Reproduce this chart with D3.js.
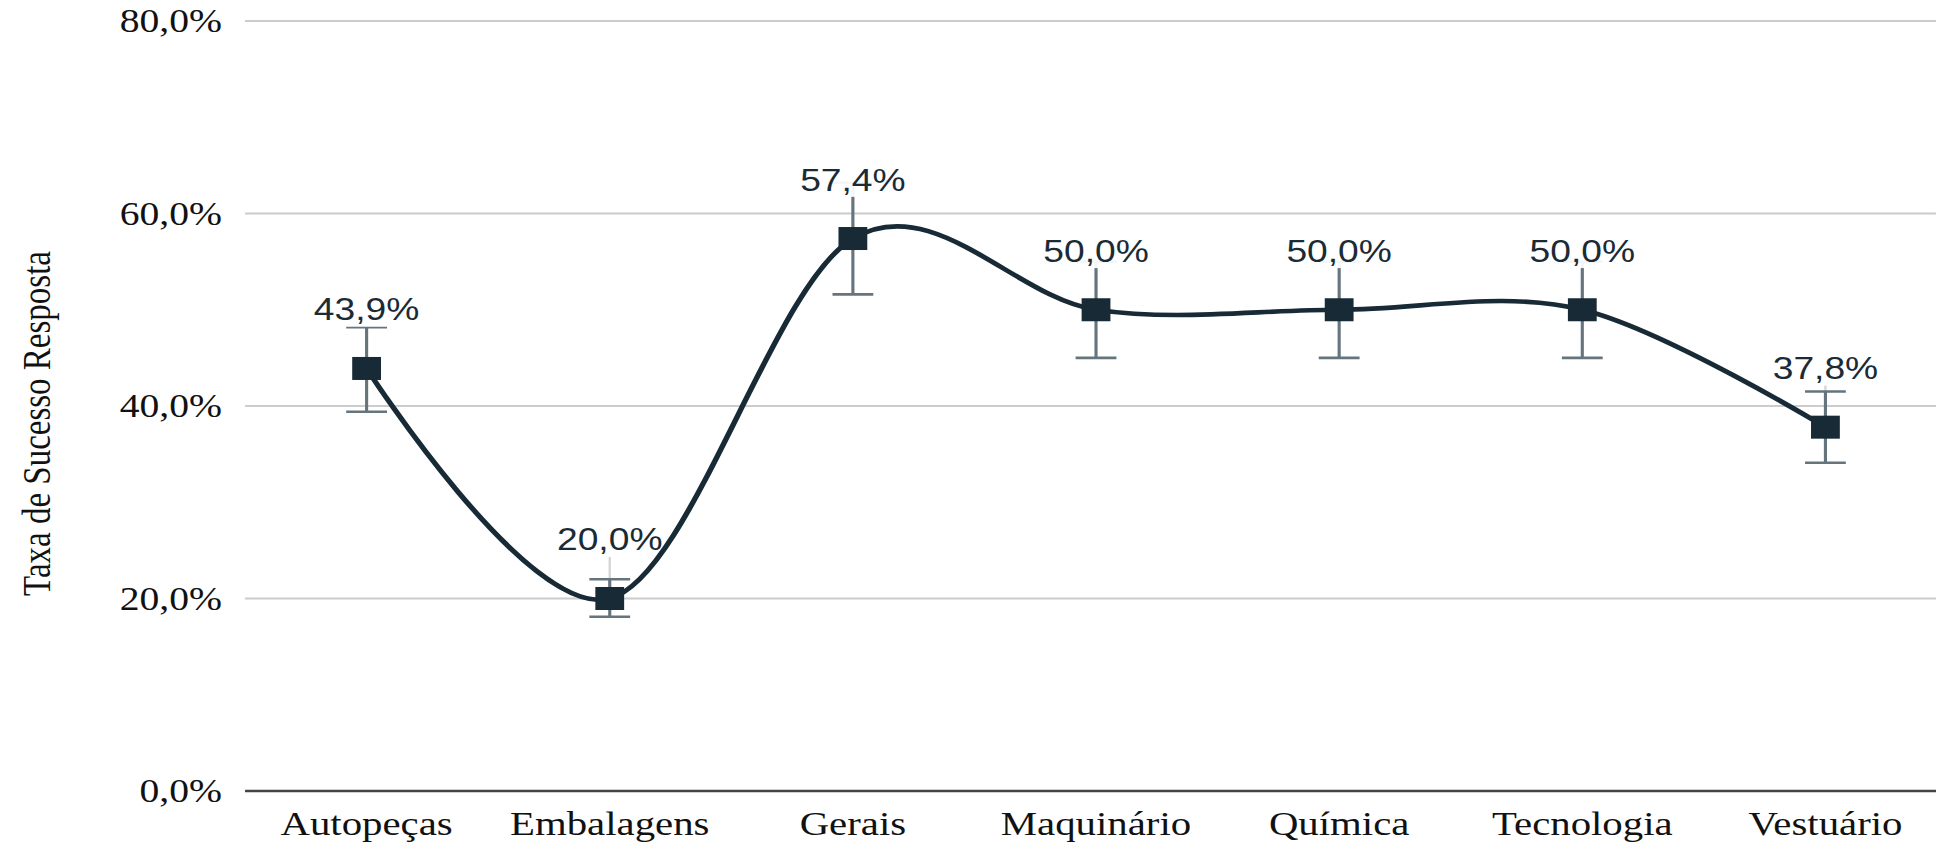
<!DOCTYPE html>
<html>
<head>
<meta charset="utf-8">
<script src="https://cdn.jsdelivr.net/npm/d3@7"></script>
<style>
  body { margin: 0; background: #fff; }
</style>
</head>
<body>
<div id="chart"></div>
<script>
// data
var categories = ["Autopeças", "Embalagens", "Gerais", "Maquinário", "Química", "Tecnologia", "Vestuário"];
var values = [43.9, 20.0, 57.4, 50.0, 50.0, 50.0, 37.8];
var errLow = [39.4, 18.1, 51.6, 45.0, 45.0, 45.0, 34.1];
var errHigh = [48.2, 22.0, 63.2, 55.0, 55.0, 55.0, 41.5];
var yTicks = [0, 20, 40, 60, 80];

var width = 1936, height = 844;
var sx = 1.2; // the picture is stretched horizontally
var vw = width / sx;

var svg = d3.select("#chart")
    .append("svg")
    .attr("width", width)
    .attr("height", height)
    .attr("viewBox", "0 0 " + vw + " " + height)
    .attr("preserveAspectRatio", "none");

var x = d3.scaleBand()
    .domain(categories)
    .range([204.2, 1622.5]);

var y = d3.scaleLinear()
    .domain([0, 80])
    .range([791, 21]);

function fmt(v) { return v.toFixed(1).replace(".", ",") + "%"; }
function cx(i) { return x(categories[i]) + x.bandwidth() / 2; }

// gridlines
svg.selectAll(".grid")
    .data(yTicks.filter(function (d) { return d > 0; }))
    .enter().append("line")
    .attr("x1", 204.2).attr("x2", vw)
    .attr("y1", function (d) { return y(d); })
    .attr("y2", function (d) { return y(d); })
    .style("stroke", "#cccccc")
    .style("stroke-width", 2);

// baseline
svg.append("line")
    .attr("x1", 204.2).attr("x2", vw)
    .attr("y1", y(0)).attr("y2", y(0))
    .style("stroke", "#444")
    .style("stroke-width", 2.5);

// y tick labels
svg.selectAll(".ytick")
    .data(yTicks)
    .enter().append("text")
    .attr("x", 185)
    .attr("y", function (d) { return y(d) + 11.5; })
    .attr("text-anchor", "end")
    .style("font-family", "'Liberation Serif', serif")
    .style("font-size", "33px")
    .style("fill", "#111")
    .text(function (d) { return fmt(d); });

// x labels
svg.selectAll(".xlab")
    .data(categories)
    .enter().append("text")
    .attr("x", function (d, i) { return cx(i); })
    .attr("y", 835)
    .attr("text-anchor", "middle")
    .style("font-family", "'Liberation Serif', serif")
    .style("font-size", "34px")
    .style("fill", "#111")
    .text(function (d) { return d; });

// y axis title
svg.append("text")
    .attr("transform", "translate(41.7,423.5) rotate(-90)")
    .attr("text-anchor", "middle")
    .style("font-family", "'Liberation Serif', serif")
    .style("font-size", "33px")
    .style("fill", "#111")
    .text("Taxa de Sucesso Resposta");

var idx = d3.range(values.length);

// leader lines from label to point
svg.selectAll(".leader")
    .data(idx)
    .enter().append("line")
    .attr("x1", cx).attr("x2", cx)
    .attr("y1", function (i) { return y(values[i]) - 42; })
    .attr("y2", function (i) { return y(values[i]); })
    .style("stroke", "#d6d6d6")
    .style("stroke-width", 2);

// error bars
var eb = svg.selectAll(".err")
    .data(idx)
    .enter().append("g")
    .style("stroke", "#65747d")
    .style("stroke-width", 2.6);
eb.append("line")
    .attr("x1", cx).attr("x2", cx)
    .attr("y1", function (i) { return y(errLow[i]); })
    .attr("y2", function (i) { return y(errHigh[i]); });
eb.append("line")
    .attr("x1", function (i) { return cx(i) - 17; })
    .attr("x2", function (i) { return cx(i) + 17; })
    .attr("y1", function (i) { return y(errLow[i]); })
    .attr("y2", function (i) { return y(errLow[i]); });
eb.append("line")
    .attr("x1", function (i) { return cx(i) - 17; })
    .attr("x2", function (i) { return cx(i) + 17; })
    .attr("y1", function (i) { return y(errHigh[i]); })
    .attr("y2", function (i) { return y(errHigh[i]); });

// data labels with white background
var lab = svg.selectAll(".lab")
    .data(idx)
    .enter().append("g");
lab.append("rect")
    .style("fill", "#fff")
    .style("opacity", 0.93);
var txt = lab.append("text")
    .attr("x", cx)
    .attr("y", function (i) { return y(values[i]) - 48; })
    .attr("text-anchor", "middle")
    .style("font-family", "'Liberation Sans', Arial, sans-serif")
    .style("font-size", "31px")
    .style("fill", "#1b2b36")
    .text(function (i) { return fmt(values[i]); });
txt.each(function (i) {
    var b = this.getBBox();
    d3.select(this.parentNode).select("rect")
        .attr("x", b.x - 2).attr("y", b.y + 4)
        .attr("width", b.width + 4).attr("height", b.height - 4);
});

// smoothed line
var line = d3.line()
    .x(function (i) { return cx(i); })
    .y(function (i) { return y(values[i]); })
    .curve(d3.curveCardinal.tension(0));
svg.append("path")
    .datum(idx)
    .attr("d", line)
    .style("fill", "none")
    .style("stroke", "#172a36")
    .style("stroke-width", 4.6);

// square markers
svg.selectAll(".mk")
    .data(idx)
    .enter().append("rect")
    .attr("x", function (i) { return cx(i) - 12; })
    .attr("y", function (i) { return y(values[i]) - 11.5; })
    .attr("width", 24)
    .attr("height", 23)
    .style("fill", "#172a36");
</script>
</body>
</html>
